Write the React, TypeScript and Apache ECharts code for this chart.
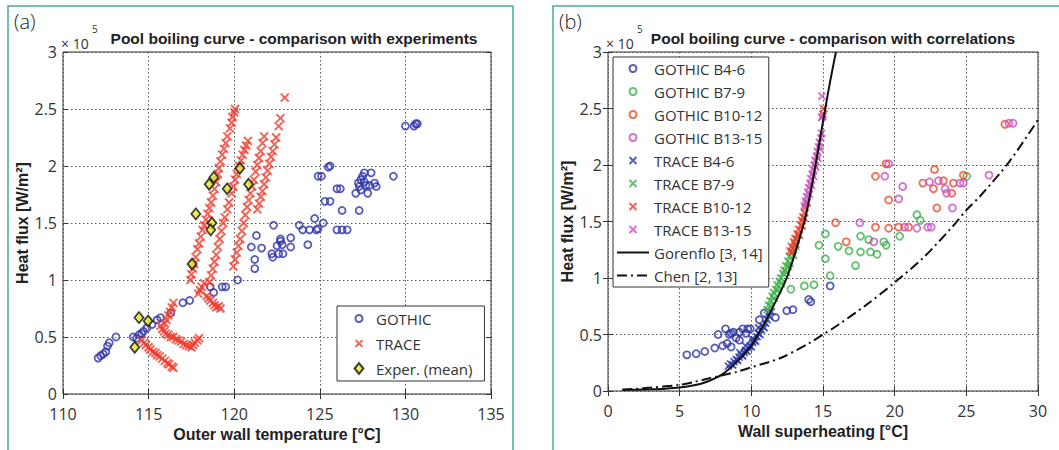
import { useEffect, useRef } from 'react';
import * as echarts from 'echarts';

// ---------- axes ----------
const xTicksA = [110, 115, 120, 125, 130, 135];
const xTicksB = [0, 5, 10, 15, 20, 25, 30];
const yTicks = [0, 0.5, 1, 1.5, 2, 2.5, 3]; // ×10^5 W/m²

// ---------- panel (a) ----------
const gothicA: number[][] = [
  [112.05, 0.315], [112.2, 0.335], [112.35, 0.35], [112.5, 0.37], [112.6, 0.42], [112.7, 0.45], [113.1, 0.5],
  [114.1, 0.5], [114.3, 0.49], [114.45, 0.52], [114.6, 0.53], [114.7, 0.55], [114.9, 0.58], [115.2, 0.61],
  [115.5, 0.65], [115.7, 0.67], [116.3, 0.71], [117.0, 0.8], [117.4, 0.82], [118.6, 0.94], [118.8, 0.89],
  [119.3, 0.94], [119.5, 0.94], [120.2, 1.0], [121.0, 1.29], [121.3, 1.39], [121.2, 1.18], [121.2, 1.1],
  [121.6, 1.28], [122.2, 1.23], [122.25, 1.2], [122.3, 1.48], [122.5, 1.3], [122.6, 1.23], [122.7, 1.34],
  [122.8, 1.31], [122.7, 1.36], [122.85, 1.23], [123.3, 1.37], [123.3, 1.29], [123.8, 1.48], [124.0, 1.44],
  [124.3, 1.31], [124.4, 1.44], [124.7, 1.54], [124.8, 1.44], [124.9, 1.45], [125.2, 1.5], [124.9, 1.91],
  [125.1, 1.91], [125.5, 1.99], [125.6, 2.0], [125.3, 1.69], [125.6, 1.69], [126.0, 1.8], [126.2, 1.8],
  [126.3, 1.61], [126.0, 1.44], [126.3, 1.44], [126.6, 1.44], [127.1, 1.76], [127.3, 1.61], [127.25, 1.85],
  [127.4, 1.88], [127.5, 1.91], [127.6, 1.94], [128.0, 1.94], [127.7, 1.83], [127.9, 1.83], [127.8, 1.76],
  [127.4, 1.79], [128.2, 1.85], [128.3, 1.82], [127.3, 1.82], [127.6, 1.86], [129.3, 1.91], [130.0, 2.35],
  [130.5, 2.35], [130.6, 2.37], [130.7, 2.37],
];
const traceA_R1: number[][] = [
  [117.45, 1.0], [117.5, 1.05], [117.6, 1.1], [117.65, 1.14], [117.75, 1.2], [117.85, 1.27], [117.95, 1.32],
  [118.05, 1.38], [118.15, 1.44], [118.25, 1.48], [118.35, 1.53], [118.45, 1.58], [118.55, 1.63], [118.65, 1.68],
  [118.75, 1.74], [118.85, 1.8], [118.95, 1.86], [119.05, 1.93], [119.1, 1.98], [119.2, 2.04], [119.3, 2.1],
  [119.4, 2.15], [119.5, 2.2], [119.6, 2.26], [119.75, 2.33], [119.85, 2.38], [119.9, 2.43], [120.0, 2.47],
  [120.05, 2.5],
];
const traceA_R2: number[][] = [
  [118.55, 0.98], [118.65, 1.04], [118.75, 1.1], [118.85, 1.16], [118.95, 1.22], [119.05, 1.29], [119.15, 1.36],
  [119.25, 1.43], [119.35, 1.5], [119.45, 1.55], [119.6, 1.62], [119.7, 1.68], [119.85, 1.76], [119.95, 1.82],
  [120.05, 1.88], [120.15, 1.93], [120.3, 2.0], [120.4, 2.05], [120.5, 2.1], [120.6, 2.14], [120.7, 2.18],
  [120.8, 2.22],
];
const traceA_R3: number[][] = [
  [119.95, 1.12], [120.05, 1.18], [120.15, 1.24], [120.25, 1.3], [120.35, 1.36], [120.45, 1.43], [120.55, 1.5],
  [120.65, 1.57], [120.75, 1.64], [120.85, 1.7], [120.95, 1.76], [121.05, 1.82], [121.15, 1.88], [121.25, 1.95],
  [121.35, 2.01], [121.45, 2.07], [121.55, 2.13], [121.65, 2.2], [121.75, 2.26],
];
const traceA_R4: number[][] = [
  [121.35, 1.62], [121.45, 1.67], [121.55, 1.73], [121.65, 1.78], [121.75, 1.84], [121.85, 1.9], [121.95, 1.96],
  [122.05, 2.02], [122.15, 2.08], [122.25, 2.13], [122.35, 2.19], [122.45, 2.25], [122.6, 2.35], [122.7, 2.42],
  [122.95, 2.6],
];
const traceA_D1: number[][] = [
  [114.6, 0.47], [114.75, 0.45], [114.85, 0.43], [115.0, 0.41], [115.1, 0.39], [115.25, 0.37], [115.4, 0.36],
  [115.5, 0.34], [115.65, 0.33], [115.8, 0.31], [115.95, 0.29], [116.1, 0.27], [116.2, 0.26], [116.35, 0.24],
  [116.45, 0.23],
];
const traceA_D2: number[][] = [
  [115.7, 0.6], [115.8, 0.57], [115.9, 0.55], [116.0, 0.53], [116.15, 0.52], [116.3, 0.5], [116.45, 0.5],
  [116.6, 0.48], [116.75, 0.47], [116.9, 0.46], [117.05, 0.44], [117.2, 0.43], [117.35, 0.42], [117.5, 0.41],
  [117.6, 0.43], [117.7, 0.45], [117.85, 0.47], [117.95, 0.49],
];
const traceA_U1: number[][] = [
  [115.95, 0.62], [116.05, 0.65], [116.15, 0.69], [116.25, 0.72], [116.35, 0.76], [116.45, 0.8],
];
const traceA_M: number[][] = [
  [117.9, 0.88], [118.0, 0.91], [118.1, 0.94], [118.25, 0.97], [118.4, 0.86], [118.5, 0.84], [118.6, 0.82],
  [118.75, 0.8], [118.85, 0.78], [118.95, 0.76], [119.1, 0.77], [119.2, 0.75],
];
const experA: number[][] = [
  [114.19, 0.41], [114.44, 0.67], [114.97, 0.64], [117.54, 1.14], [117.76, 1.58], [118.54, 1.84],
  [118.81, 1.9], [119.59, 1.8], [120.33, 1.98], [120.84, 1.84], [118.7, 1.5], [118.63, 1.44],
];

// ---------- panel (b) ----------
const gothicB46: number[][] = [
  [5.5, 0.32], [6.15, 0.33], [6.75, 0.35], [7.45, 0.38], [8.0, 0.4], [7.68, 0.5], [8.2, 0.55], [8.31, 0.42],
  [8.59, 0.51], [8.75, 0.52], [8.94, 0.47], [9.17, 0.52], [9.4, 0.55], [9.63, 0.51], [8.59, 0.39], [9.75, 0.55],
  [9.17, 0.45], [8.47, 0.5], [9.93, 0.55], [10.56, 0.63], [10.9, 0.69], [11.68, 0.65], [12.47, 0.71],
  [12.9, 0.72], [14.0, 0.81], [14.15, 0.79], [15.5, 0.93],
];
const gothicB79: number[][] = [
  [12.76, 0.9], [13.7, 0.93], [14.37, 0.94], [15.5, 1.02], [15.16, 1.17], [15.16, 1.39], [14.72, 1.29],
  [16.06, 1.28], [16.81, 1.24], [17.27, 1.11], [17.62, 1.37], [17.62, 1.23], [18.19, 1.34], [18.31, 1.23],
  [18.77, 1.21], [19.24, 1.32], [19.4, 1.29], [20.35, 1.37], [21.55, 1.56], [21.78, 1.51], [25.02, 1.9],
];
const gothicB1012: number[][] = [
  [15.88, 1.49], [16.62, 1.32], [18.66, 1.9], [19.4, 2.01], [19.58, 1.69], [18.66, 1.45], [19.58, 1.44],
  [20.28, 1.45], [20.97, 1.45], [21.97, 1.84], [22.7, 1.79], [22.78, 1.96], [22.94, 1.62], [23.4, 1.86],
  [24.1, 1.84], [23.98, 1.75], [24.79, 1.91], [27.69, 2.36],
];
const gothicB1315: number[][] = [
  [17.57, 1.49], [18.54, 1.32], [19.31, 1.9], [19.58, 2.01], [20.28, 1.7], [20.56, 1.81], [20.69, 1.45],
  [21.55, 1.44], [22.31, 1.45], [22.55, 1.45], [22.43, 1.85], [23.06, 1.86], [23.52, 1.79], [23.63, 1.75],
  [24.03, 1.62], [24.56, 1.84], [24.79, 1.84], [26.58, 1.91], [27.97, 2.37], [28.26, 2.37],
];
const traceB46: number[][] = [
  [8.4, 0.22], [8.55, 0.24], [8.7, 0.23], [8.8, 0.26], [8.95, 0.28], [9.05, 0.27], [9.15, 0.3], [9.3, 0.32],
  [9.4, 0.31], [9.5, 0.34], [9.6, 0.36], [9.7, 0.35], [9.8, 0.38], [9.9, 0.4], [10.0, 0.39], [10.1, 0.43],
  [10.2, 0.45], [10.3, 0.44], [10.4, 0.48], [10.5, 0.51], [10.6, 0.5], [10.7, 0.54], [10.8, 0.57],
  [10.9, 0.56], [11.0, 0.6], [11.1, 0.63], [11.25, 0.66], [11.4, 0.7], [9.6, 0.4], [10.05, 0.46],
  [9.2, 0.34], [10.5, 0.56],
];
const traceB79: number[][] = [
  [11.1, 0.72], [11.2, 0.76], [11.3, 0.8], [11.35, 0.75], [11.45, 0.84], [11.55, 0.87], [11.6, 0.82],
  [11.7, 0.9], [11.8, 0.94], [11.85, 0.89], [11.95, 0.97], [12.05, 1.0], [12.1, 0.95], [12.2, 1.04],
  [12.3, 1.07], [12.4, 1.11], [12.45, 1.05], [12.55, 1.15], [12.65, 1.19], [12.7, 1.13], [12.8, 1.22],
  [12.9, 1.26], [12.95, 1.2], [13.05, 1.3], [13.15, 1.34], [13.25, 1.38], [13.1, 1.28], [12.6, 1.1],
];
const traceB1012: number[][] = [
  [12.7, 1.24], [12.8, 1.28], [12.85, 1.23], [12.95, 1.32], [13.05, 1.35], [13.1, 1.3], [13.2, 1.39],
  [13.3, 1.43], [13.35, 1.38], [13.45, 1.47], [13.5, 1.51], [13.55, 1.46], [13.6, 1.54], [13.7, 1.58],
  [13.75, 1.62], [13.7, 1.53], [13.85, 1.66], [15.0, 2.45], [15.05, 2.5],
];
const traceB1315: number[][] = [
  [13.7, 1.64], [13.8, 1.68], [13.85, 1.72], [13.9, 1.67], [13.95, 1.76], [14.0, 1.8], [14.05, 1.74],
  [14.1, 1.84], [14.15, 1.88], [14.2, 1.82], [14.25, 1.92], [14.3, 1.96], [14.35, 1.9], [14.4, 2.0],
  [14.45, 2.04], [14.5, 1.98], [14.55, 2.08], [14.6, 2.12], [14.65, 2.06], [14.7, 2.16], [14.75, 2.2],
  [14.8, 2.14], [14.85, 2.24], [14.9, 2.28], [14.9, 2.42], [15.0, 2.43], [14.93, 2.61],
];
const gorenfloX = [1.0, 2.0, 3.0, 4.0, 5.0, 6.0, 6.86, 8.0, 9.0, 10.0, 10.45, 11.0, 11.57, 12.0, 12.47, 13.0, 13.7, 14.0, 14.48, 15.16, 15.5, 15.9];
const gorenfloY = [0.01, 0.012, 0.015, 0.02, 0.03, 0.05, 0.08, 0.15, 0.26, 0.4, 0.5, 0.62, 0.76, 0.87, 1.0, 1.2, 1.5, 1.67, 2.0, 2.5, 2.74, 3.0];
const chenX = [1, 3, 5, 6, 7, 8, 9, 10, 12, 14, 15, 16, 18, 20, 22, 24, 25, 26, 28, 30];
const chenY = [0.01, 0.03, 0.055, 0.08, 0.11, 0.14, 0.17, 0.21, 0.29, 0.42, 0.5, 0.58, 0.76, 0.96, 1.18, 1.45, 1.6, 1.73, 2.03, 2.4];

// ---------- styles ----------
const FONT = '"Open Sans", "Liberation Sans", sans-serif';
const BOLD = '"Liberation Sans", Arial, sans-serif';
const TEAL = '#3fae9f';
const CROSS = 'path://M0 0L10 10M10 0L0 10';
// legend icons padded inside a 12x12 box so they keep their own size
const ICON_CIRCLE = 'path://M0 0M12 12M2.5 6a3.5 3.5 0 1 0 7 0a3.5 3.5 0 1 0 -7 0';
const ICON_CROSS = 'path://M0 0M12 12M2.6 2.6L9.4 9.4M9.4 2.6L2.6 9.4';
const ICON_DIAMOND = 'path://M0 0M12 12M6 0.6L10.4 6L6 11.4L1.6 6Z';

const C_BLUE = '#3035a8';
const C_RED = '#f03a2a';
const C_GREEN = '#3cb04a';
const C_ORANGE = '#ee4a26';
const C_MAG = '#c94fbf';
const C_NAVY = '#2a3aa8';

function circleSeries(name: string, data: number[][], color: string, xi: number, yi: number) {
  return {
    name, type: 'scatter', xAxisIndex: xi, yAxisIndex: yi, data,
    symbol: 'circle', symbolSize: 7,
    itemStyle: { color: 'rgba(255,255,255,0)', borderColor: color, borderWidth: 1.8 },
  };
}
function crossSeries(name: string, data: number[][], color: string, xi: number, yi: number, size: number) {
  return {
    name, type: 'scatter', xAxisIndex: xi, yAxisIndex: yi, data,
    symbol: CROSS, symbolSize: size,
    itemStyle: { color: 'rgba(0,0,0,0)', borderColor: color, borderWidth: 1.9 },
  };
}

const tickStyle = { show: true, inside: true, length: 5, lineStyle: { color: '#333' } };
const gridLine = { show: true, lineStyle: { color: '#555', type: [1.5, 2.5], width: 1 } };
const tickLabel = { fontFamily: FONT, fontSize: 16, color: '#333', lineHeight: 16 };
const nameStyle = { fontFamily: BOLD, fontWeight: 'bold', fontSize: 16, color: '#222' };

function mainX(ticks: number[], grid: number, name: string) {
  return {
    type: 'value', gridIndex: grid, position: 'bottom',
    min: ticks[0], max: ticks[ticks.length - 1], interval: ticks[1] - ticks[0],
    name, nameLocation: 'middle', nameGap: 26, nameTextStyle: nameStyle,
    axisLine: { show: false },
    axisTick: tickStyle,
    axisLabel: { ...tickLabel, margin: 12 },
    splitLine: gridLine,
  };
}
function topX(ticks: number[], grid: number) {
  return {
    type: 'value', gridIndex: grid, position: 'top',
    min: ticks[0], max: ticks[ticks.length - 1], interval: ticks[1] - ticks[0],
    axisLine: { show: false }, axisTick: tickStyle,
    axisLabel: { show: false }, splitLine: { show: false },
  };
}
function mainY(grid: number) {
  return {
    type: 'value', gridIndex: grid, position: 'left',
    min: yTicks[0], max: yTicks[yTicks.length - 1], interval: yTicks[1] - yTicks[0],
    name: 'Heat flux [W/m²]', nameLocation: 'middle', nameGap: 29, nameTextStyle: nameStyle,
    axisLine: { show: false }, axisTick: tickStyle,
    axisLabel: { ...tickLabel, margin: 6, lineHeight: 12 },
    splitLine: gridLine,
  };
}
function rightY(grid: number) {
  return {
    type: 'value', gridIndex: grid, position: 'right',
    min: yTicks[0], max: yTicks[yTicks.length - 1], interval: yTicks[1] - yTicks[0],
    axisLine: { show: false }, axisTick: tickStyle,
    axisLabel: { show: false }, splitLine: { show: false },
  };
}

export default function App() {
  const ref = useRef<HTMLDivElement>(null);
  useEffect(() => {
    if (!ref.current) return;
    const chart = echarts.init(ref.current, null, { renderer: 'svg' });
    const traceA = [...traceA_R1, ...traceA_R2, ...traceA_R3, ...traceA_R4, ...traceA_D1, ...traceA_D2, ...traceA_U1, ...traceA_M];
    const legendText = { fontFamily: FONT, fontSize: 15, color: '#333', lineHeight: 15 };
    const hideSym = { opacity: 0 };
    chart.setOption({
      animation: false,
      backgroundColor: '#fff',
      grid: [
        { left: 63, top: 52, width: 428, height: 342, show: true, borderColor: '#333', borderWidth: 1, backgroundColor: 'rgba(0,0,0,0)' },
        { left: 608, top: 52, width: 430, height: 339, show: true, borderColor: '#333', borderWidth: 1, backgroundColor: 'rgba(0,0,0,0)' },
      ],
      xAxis: [
        mainX(xTicksA, 0, 'Outer wall temperature [°C]'),
        topX(xTicksA, 0),
        mainX(xTicksB, 1, 'Wall superheating [°C]'),
        topX(xTicksB, 1),
      ],
      yAxis: [mainY(0), rightY(0), mainY(1), rightY(1)],
      legend: [
        {
          data: [
            { name: 'GOTHIC', icon: ICON_CIRCLE },
            { name: 'TRACE', icon: ICON_CROSS },
            { name: 'Exper. (mean)', icon: ICON_DIAMOND },
          ],
          orient: 'vertical', left: 337, top: 306,
          itemWidth: 24, itemHeight: 12, itemGap: 10, symbolKeepAspect: true,
          padding: [5, 12, 5, 15],
          borderColor: '#333', borderWidth: 1, backgroundColor: '#fff',
          textStyle: legendText,
        },
        {
          data: ['GOTHIC B4-6', 'GOTHIC B7-9', 'GOTHIC B10-12', 'GOTHIC B13-15', 'TRACE B4-6', 'TRACE B7-9', 'TRACE B10-12', 'TRACE B13-15',
            { name: 'Gorenflo [3, 14]', itemStyle: hideSym }, { name: 'Chen [2, 13]', itemStyle: hideSym }],
          orient: 'vertical', left: 613, top: 57,
          itemWidth: 32, itemHeight: 7, itemGap: 8,
          padding: [4, 6, 4, 3],
          borderColor: '#333', borderWidth: 1, backgroundColor: '#fff',
          textStyle: legendText,
        },
      ],
      series: [
        circleSeries('GOTHIC', gothicA, C_BLUE, 0, 0),
        crossSeries('TRACE', traceA, C_RED, 0, 0, 8),
        {
          name: 'Exper. (mean)', type: 'scatter', xAxisIndex: 0, yAxisIndex: 0, data: experA,
          symbol: 'diamond', symbolSize: [9, 11],
          itemStyle: { color: '#e6e62a', borderColor: '#111', borderWidth: 1.8 },
        },
        circleSeries('GOTHIC B4-6', gothicB46, C_BLUE, 2, 2),
        circleSeries('GOTHIC B7-9', gothicB79, C_GREEN, 2, 2),
        circleSeries('GOTHIC B10-12', gothicB1012, C_ORANGE, 2, 2),
        circleSeries('GOTHIC B13-15', gothicB1315, C_MAG, 2, 2),
        crossSeries('TRACE B4-6', traceB46, C_NAVY, 2, 2, 7),
        crossSeries('TRACE B7-9', traceB79, C_GREEN, 2, 2, 7),
        crossSeries('TRACE B10-12', traceB1012, C_RED, 2, 2, 7),
        crossSeries('TRACE B13-15', traceB1315, C_MAG, 2, 2, 7),
        {
          name: 'Gorenflo [3, 14]', type: 'line', xAxisIndex: 2, yAxisIndex: 2, smooth: 0.3,
          data: gorenfloX.map((x, i) => [x, gorenfloY[i]]), symbol: 'none',
          lineStyle: { color: '#111', width: 2 }, itemStyle: { color: '#111' },
        },
        {
          name: 'Chen [2, 13]', type: 'line', xAxisIndex: 2, yAxisIndex: 2, smooth: 0.3,
          data: chenX.map((x, i) => [x, chenY[i]]), symbol: 'none',
          lineStyle: { color: '#111', width: 2, type: [10, 4, 2, 4] }, itemStyle: { color: '#111' },
        },
      ],
      graphic: [
        { type: 'rect', shape: { x: 8, y: 6, width: 505, height: 470 }, style: { fill: 'none', stroke: TEAL, lineWidth: 1.5 }, silent: true },
        { type: 'rect', shape: { x: 553, y: 6, width: 520, height: 470 }, style: { fill: 'none', stroke: TEAL, lineWidth: 1.5 }, silent: true },
        { type: 'text', x: 14, y: 11, style: { text: '(a)', font: `300 20px ${FONT}`, fill: '#222' }, silent: true },
        { type: 'text', x: 559, y: 11, style: { text: '(b)', font: `300 20px ${FONT}`, fill: '#222' }, silent: true },
        { type: 'text', x: 294, y: 38, style: { text: 'Pool boiling curve - comparison with experiments', font: `bold 15.5px ${BOLD}`, fill: '#222', align: 'center', verticalAlign: 'middle', textAlign: 'center', textVerticalAlign: 'middle' }, silent: true },
        { type: 'text', x: 833, y: 38, style: { text: 'Pool boiling curve - comparison with correlations', font: `bold 15.5px ${BOLD}`, fill: '#222', align: 'center', verticalAlign: 'middle', textAlign: 'center', textVerticalAlign: 'middle' }, silent: true },
        { type: 'text', x: 61, y: 36, style: { text: '× 10', font: `14px ${FONT}`, fill: '#333' }, silent: true },
        { type: 'text', x: 92, y: 24, style: { text: '5', font: `10px ${FONT}`, fill: '#333' }, silent: true },
        { type: 'text', x: 606, y: 36, style: { text: '× 10', font: `14px ${FONT}`, fill: '#333' }, silent: true },
        { type: 'text', x: 637, y: 24, style: { text: '5', font: `10px ${FONT}`, fill: '#333' }, silent: true },
      ],
    });
    return () => chart.dispose();
  }, []);
  return <div ref={ref} style={{ position: 'fixed', left: 0, top: 0, width: 1059, height: 450, background: '#fff' }} />;
}
